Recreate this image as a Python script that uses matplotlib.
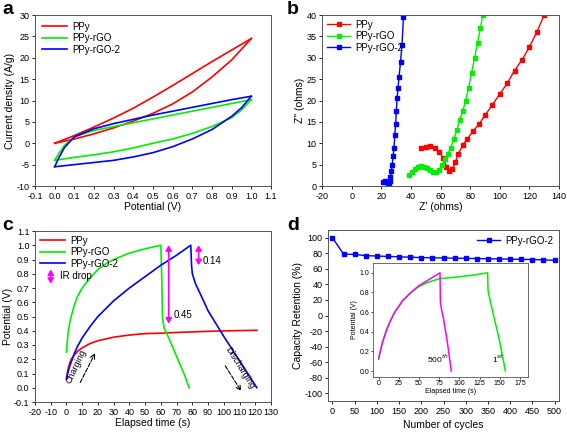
import matplotlib
matplotlib.use("Agg")
import matplotlib.pyplot as plt

plt.rcParams['font.family'] = ['Liberation Sans', 'DejaVu Sans']
plt.rcParams['font.size'] = 7
plt.rcParams['axes.unicode_minus'] = False

# ---- panel a: CV ----
a_ppy_up_x = [0, 0.1, 0.2, 0.3, 0.4, 0.5, 0.6, 0.7, 0.8, 0.9, 1.0]
a_ppy_up_y = [0, 1.8, 3.8, 5.9, 8.2, 10.8, 13.5, 16.3, 19.1, 21.8, 24.5]
a_ppy_lo_y = [0, 1.0, 2.2, 3.6, 5.2, 7.0, 9.2, 12.0, 15.5, 19.5, 24.5]
a_rgo_up_x = [0, 0.02, 0.05, 0.1, 0.2, 0.3, 0.4, 0.5, 0.6, 0.7, 0.8, 0.9, 1.0]
a_rgo_up_y = [-4, -2.5, -0.5, 1.5, 3.0, 3.9, 4.8, 5.7, 6.6, 7.5, 8.4, 9.3, 10.2]
a_rgo_lo_x = [0, 0.1, 0.2, 0.3, 0.4, 0.5, 0.6, 0.7, 0.8, 0.9, 0.95, 1.0]
a_rgo_lo_y = [-4, -3.3, -2.7, -2.0, -1.1, 0, 1.0, 2.3, 3.9, 6.0, 7.8, 10.2]
a_rgo2_up_y = [-5.5, -3.5, -1, 1.5, 3.4, 4.6, 5.6, 6.6, 7.5, 8.4, 9.3, 10.2, 11]
a_rgo2_lo_y = [-5.5, -5.0, -4.5, -4.0, -3.2, -2.2, -0.8, 1.0, 3.2, 6.3, 8.3, 11]

# ---- panel b: Nyquist ----
b_ppy_x = [47, 50, 53, 56, 59, 62, 64, 66, 68, 70, 72, 75, 78, 82, 86, 90, 95, 100, 105, 110, 115, 120, 125, 130]
b_ppy_y = [9, 9.2, 9.3, 9, 8, 6.5, 4.5, 3.6, 3.9, 5.5, 7.5, 9.5, 11, 12.8, 14.5, 16.5, 19, 21.5, 24, 27, 29.5, 32.5, 36, 40]
b_rgo_x = [39, 41, 43, 45, 47, 49, 51, 53, 55, 57, 59, 61, 63, 65, 67, 69, 71, 73, 75, 77, 79, 81, 83, 85, 87, 88.5]
b_rgo_y = [2.5, 3.2, 3.9, 4.4, 4.6, 4.5, 4.2, 3.7, 3.2, 3.2, 3.8, 5, 6.2, 7.5, 9, 11, 13, 15.5, 17.5, 20, 23, 26.5, 30, 33.5, 37, 40]
b_rgo2_x = [21.5, 22.5, 23.5, 24.3, 25, 25.6, 26.2, 26.8, 27.4, 28, 28.6, 29.2, 29.7, 30.2, 30.7, 31.3, 32, 33, 34, 35]
b_rgo2_y = [1, 1.1, 0.9, 0.5, 0.6, 1.2, 2.2, 3.5, 5, 7, 9, 12, 14.5, 17.5, 20.5, 23, 25.5, 29, 33, 39.5]

# ---- panel c: GCD ----
c_ppy_t = [0, 1, 2, 3, 5, 7, 10, 15, 20, 30, 40, 50, 60, 70, 80, 90, 100, 110, 121]
c_ppy_v = [0.07, 0.13, 0.17, 0.2, 0.23, 0.255, 0.28, 0.31, 0.33, 0.355, 0.37, 0.38, 0.383, 0.388, 0.392, 0.396, 0.399, 0.401, 0.403]
c_rgo_t = [0, 0.5, 1, 2, 3, 5, 7, 10, 15, 20, 25, 30, 40, 50, 60, 60.5, 61, 62, 65, 70, 75, 78]
c_rgo_v = [0.25, 0.32, 0.38, 0.45, 0.5, 0.58, 0.64, 0.7, 0.77, 0.83, 0.87, 0.9, 0.945, 0.975, 1.0, 0.8, 0.5, 0.42, 0.35, 0.22, 0.09, 0.0]
c_rgo2_t = [0, 1, 2, 3, 5, 7, 10, 15, 20, 30, 40, 50, 60, 70, 79, 79.5, 80, 82, 85, 90, 100, 110, 121]
c_rgo2_v = [0.06, 0.11, 0.15, 0.18, 0.24, 0.29, 0.35, 0.43, 0.5, 0.61, 0.7, 0.78, 0.86, 0.93, 1.0, 0.86, 0.8, 0.73, 0.66, 0.54, 0.36, 0.19, 0.0]

# ---- panel d: cycling ----
d_cycles = list(range(0, 501, 25))
d_retention = [100, 79, 78.5, 77, 76.5, 76, 75.5, 75, 74.5, 74.2, 74, 73.7, 73.5, 73.2, 73, 72.8, 72.5, 72.2, 72, 71.5, 71]
ins_1st_t = [0, 2, 5, 10, 15, 20, 30, 40, 50, 60, 75, 100, 120, 135, 135.5, 137, 140, 150, 157]
ins_1st_v = [0.12, 0.2, 0.3, 0.43, 0.52, 0.6, 0.72, 0.8, 0.86, 0.9, 0.94, 0.96, 0.98, 1.0, 0.82, 0.76, 0.65, 0.3, 0.0]
ins_500_t = [0, 2, 5, 10, 15, 20, 30, 40, 50, 60, 70, 76, 76.5, 78, 80, 85, 90]
ins_500_v = [0.13, 0.2, 0.3, 0.42, 0.52, 0.6, 0.72, 0.8, 0.87, 0.92, 0.97, 1.0, 0.7, 0.62, 0.55, 0.3, 0.0]

W, H = 567, 432
fig = plt.figure(figsize=(W / 100, H / 100), dpi=100)

def box(l, t, r, b):
    return [l / W, 1 - b / H, (r - l) / W, (b - t) / H]

def style(ax):
    ax.tick_params(direction='out', length=2.5, width=0.6, labelsize=6.5, pad=1.5)
    for s in ax.spines.values():
        s.set_linewidth(0.7)
        s.set_color('#555555')

red, green, blue, mag = '#ff0000', '#00ee00', '#0000ff', '#ff00ff'
leg = dict(frameon=False, fontsize=7, labelspacing=0.15, handletextpad=0.5)

# a
ax = fig.add_axes(box(35, 15, 271, 186))
ax.plot(a_ppy_up_x, a_ppy_up_y, color=red, lw=1.2, label='PPy')
ax.plot(a_ppy_up_x, a_ppy_lo_y, color=red, lw=1.2)
ax.plot(a_rgo_up_x, a_rgo_up_y, color=green, lw=1.2, label='PPy-rGO')
ax.plot(a_rgo_lo_x, a_rgo_lo_y, color=green, lw=1.2)
ax.plot(a_rgo_up_x, a_rgo2_up_y, color=blue, lw=1.2, label='PPy-rGO-2')
ax.plot(a_rgo_lo_x, a_rgo2_lo_y, color=blue, lw=1.2)
ax.set_xlim(-0.1, 1.1)
ax.set_ylim(-10, 30)
ax.set_xticks([round(-0.1 + 0.1 * i, 1) for i in range(13)])
ax.set_yticks(range(-10, 31, 5))
ax.set_xlabel('Potential (V)', fontsize=7.5, labelpad=1)
ax.set_ylabel('Current density (A/g)', fontsize=7.5, labelpad=1)
ax.legend(loc='upper left', handlelength=2.6, borderaxespad=0.3, **leg)
style(ax)
fig.text(2 / W, 1 - 14 / H, 'a', fontsize=14, fontweight='bold')

# b
ax = fig.add_axes(box(322, 15, 559, 186))
kw = dict(marker='s', ms=2.3, lw=1.0)
ax.plot(b_ppy_x, b_ppy_y, color=red, label='PPy', **kw)
ax.plot(b_rgo_x, b_rgo_y, color=green, label='PPy-rGO', **kw)
ax.plot(b_rgo2_x, b_rgo2_y, color=blue, label='PPy-rGO-2', **kw)
ax.set_xlim(-20, 140)
ax.set_ylim(0, 40)
ax.set_xticks(range(-20, 141, 20))
ax.set_yticks(range(0, 41, 5))
ax.set_xlabel("Z' (ohms)", fontsize=7.5, labelpad=1)
ax.set_ylabel('Z" (ohms)', fontsize=7.5, labelpad=1)
ax.legend(loc='upper left', handlelength=2.4, borderaxespad=0.1, **leg)
style(ax)
fig.text(287 / W, 1 - 14 / H, 'b', fontsize=14, fontweight='bold')

# c
ax = fig.add_axes(box(35, 231, 271, 402))
ax.plot(c_ppy_t, c_ppy_v, color=red, lw=1.2, label='PPy')
ax.plot(c_rgo_t, c_rgo_v, color=green, lw=1.2, label='PPy-rGO')
ax.plot(c_rgo2_t, c_rgo2_v, color=blue, lw=1.2, label='PPy-rGO-2')
ax.set_xlim(-20, 130)
ax.set_ylim(-0.1, 1.1)
ax.set_xticks(range(-20, 131, 10))
ax.set_yticks([round(-0.1 + 0.1 * i, 1) for i in range(13)])
ax.set_xlabel('Elapsed time (s)', fontsize=7.5, labelpad=1)
ax.set_ylabel('Potential (V)', fontsize=7.5, labelpad=1)
ax.legend(loc='upper left', handlelength=2.6, borderaxespad=0.1, **leg)
arr = dict(arrowstyle='<|-|>,head_length=0.5,head_width=0.3', color=mag, lw=1.2, mutation_scale=6, shrinkA=0, shrinkB=0)
ax.annotate('', xy=(65, 1.0), xytext=(65, 0.45), arrowprops=arr)
ax.annotate('', xy=(84, 1.0), xytext=(84, 0.86), arrowprops=arr)
ax.annotate('', xy=(-10, 0.83), xytext=(-10, 0.73), arrowprops=arr)
ax.text(-4, 0.785, 'IR drop', fontsize=7, va='center')
ax.text(68, 0.51, '0.45', fontsize=7, va='center')
ax.text(86.5, 0.89, '0.14', fontsize=7, va='center')
dash = dict(arrowstyle='->', color='black', lw=0.8, ls='--', mutation_scale=8)
ax.annotate('', xy=(19, 0.26), xytext=(8, 0.02), arrowprops=dash)
ax.text(6, 0.15, 'Charging', fontsize=6.5, rotation=65, ha='center', va='center')
ax.annotate('', xy=(112, -0.04), xytext=(100, 0.17), arrowprops=dash)
ax.text(110, 0.14, 'Discharging', fontsize=6.5, rotation=-58, ha='center', va='center')
style(ax)
fig.text(2 / W, 1 - 230 / H, 'c', fontsize=14, fontweight='bold')

# d
ax = fig.add_axes(box(328, 230, 559, 401))
ax.plot(d_cycles, d_retention, color=blue, marker='s', ms=3, lw=1.0, label='PPy-rGO-2')
ax.set_xlim(-10, 510)
ax.set_ylim(-110, 110)
ax.set_xticks(range(0, 501, 50))
ax.set_yticks(range(-100, 101, 20))
ax.set_xlabel('Number of cycles', fontsize=7.5, labelpad=3)
ax.set_ylabel('Capacity Retention (%)', fontsize=7.5, labelpad=1)
ax.legend(loc='upper right', handlelength=2.4, borderaxespad=0.2, **leg)
style(ax)
fig.text(287 / W, 1 - 230 / H, 'd', fontsize=14, fontweight='bold')

ins = fig.add_axes(box(373, 263, 528, 377))
ins.plot(ins_1st_t, ins_1st_v, color=green, lw=1.1)
ins.plot(ins_500_t, ins_500_v, color=mag, lw=1.1)
ins.set_xlim(-7, 185)
ins.set_ylim(-0.06, 1.1)
ins.set_xticks(range(0, 176, 25))
ins.set_yticks([0.0, 0.2, 0.4, 0.6, 0.8, 1.0])
ins.set_xlabel('Elapsed time (s)', fontsize=5, labelpad=0.5)
ins.set_ylabel('Potential (V)', fontsize=5, labelpad=1)
ins.tick_params(direction='out', length=1.5, width=0.5, labelsize=5, pad=1)
for s in ins.spines.values():
    s.set_linewidth(0.6)
    s.set_color('#555555')
ins.text(60, 0.08, '500$^{th}$', fontsize=6)
ins.text(140, 0.08, '1$^{st}$', fontsize=6)

fig.savefig('out.png', dpi=100)
